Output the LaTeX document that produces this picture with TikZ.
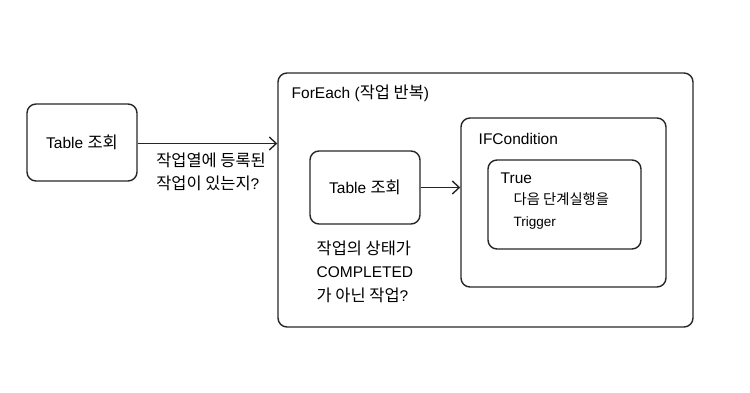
\documentclass[tikz,border=0pt]{standalone}
\usepackage{fontspec}
\setmainfont{Liberation Sans}
\newfontfamily\kr[Scale=1.06]{Noto Sans CJK KR}
\usetikzlibrary{arrows.meta, positioning}

\begin{document}
\begin{tikzpicture}[
      x=1pt, y=-1pt,
      font=\fontsize{15.5}{23.5}\selectfont,
      line width=1.4pt,
      box/.style={draw=black!85, rounded corners=9pt, align=center, inner sep=0pt},
      frame/.style={draw=black!85, rounded corners=9pt, inner sep=0pt},
      lbl/.style={anchor=west, inner sep=0pt, align=left},
      arr/.style={-{Straight Barb[length=7pt, width=13pt, line width=1.4pt]}, draw=black!85},
    ]
    \useasboundingbox (0,0) rectangle (750,392);
    % outer step
    \node[box, minimum width=110pt, minimum height=77pt] (query) at (82,142.5) {Table {\kr 조회}};
    % loop container
    \node[frame, minimum width=415pt, minimum height=254pt] (loop) at (485.5,200) {};
    \node[lbl] (looptitle) at (291,93) {ForEach ({\kr 작업 반복})};
    \node[box, minimum width=110pt, minimum height=73pt] (inquery) at (365,187.5) {Table {\kr 조회}};
    \node[lbl] (innote) at (316,271.5) {{\kr 작업의 상태가}\\COMPLETED\\{\kr 가 아닌 작업}?};
    % condition
    \node[frame, minimum width=205pt, minimum height=169pt] (cond) at (563.5,202.5) {};
    \node[lbl] (condtitle) at (478,139) {IFCondition};
    \node[frame, minimum width=153pt, minimum height=89pt] (true) at (564.5,204.5) {};
    \node[lbl] (truetitle) at (500,178) {True};
    \node[lbl, font=\fontsize{13.5}{21.5}\selectfont] (action) at (513,211) {{\kr 다음 단계실행을}\\Trigger};
    \draw[arr] (query.east |- 0,143.5) coordinate (q) -- (q -| loop.west)
      node[lbl, pos=0.128, yshift=-28.5pt] (qnote) {{\kr 작업열에 등록된}\\{\kr 작업이 있는지}?};
    \draw[arr] (inquery.east) -- (inquery.east -| cond.west);
  \end{tikzpicture}
\end{document}
